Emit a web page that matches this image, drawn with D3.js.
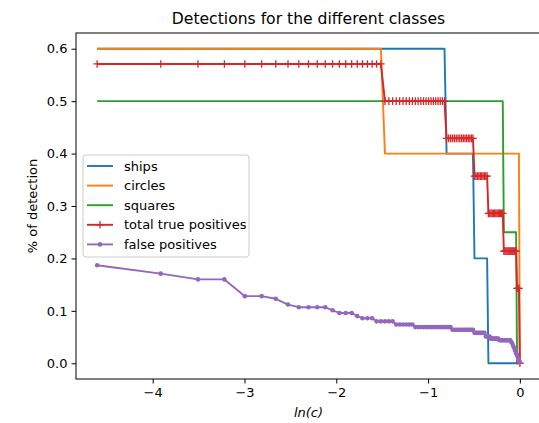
<!DOCTYPE html>
<html>
<head>
<meta charset="utf-8">
<script src="https://cdn.jsdelivr.net/npm/d3@7"></script>
<style>
  body { margin: 0; background: #fff; }
  svg { font-family: "DejaVu Sans", sans-serif; }
</style>
</head>
<body>
<div id="chart"></div>
<script>
// confidence thresholds c, plotted as ln(c)
const thresholds = [
  0.01, 0.02, 0.03, 0.04, 0.05, 0.06, 0.07, 0.08, 0.09, 0.10,
  0.11, 0.12, 0.13, 0.14, 0.15, 0.16, 0.17, 0.18, 0.19, 0.20,
  0.21, 0.22, 0.23, 0.24, 0.25, 0.26, 0.27, 0.28, 0.29, 0.30,
  0.31, 0.32, 0.33, 0.34, 0.35, 0.36, 0.37, 0.38, 0.39, 0.40,
  0.41, 0.42, 0.43, 0.44, 0.45, 0.46, 0.47, 0.48, 0.49, 0.50,
  0.51, 0.52, 0.53, 0.54, 0.55, 0.56, 0.57, 0.58, 0.59, 0.60,
  0.61, 0.62, 0.63, 0.64, 0.65, 0.66, 0.67, 0.68, 0.69, 0.70,
  0.71, 0.72, 0.73, 0.74, 0.75, 0.76, 0.77, 0.78, 0.79, 0.80,
  0.81, 0.82, 0.83, 0.84, 0.85, 0.86, 0.87, 0.88, 0.89, 0.90,
  0.91, 0.92, 0.93, 0.94, 0.95, 0.96, 0.97, 0.98, 0.99, 1.00
];

const ships = [
  0.6, 0.6, 0.6, 0.6, 0.6, 0.6, 0.6, 0.6, 0.6, 0.6,
  0.6, 0.6, 0.6, 0.6, 0.6, 0.6, 0.6, 0.6, 0.6, 0.6,
  0.6, 0.6, 0.6, 0.6, 0.6, 0.6, 0.6, 0.6, 0.6, 0.6,
  0.6, 0.6, 0.6, 0.6, 0.6, 0.6, 0.6, 0.6, 0.6, 0.6,
  0.6, 0.6, 0.6, 0.6, 0.4, 0.4, 0.4, 0.4, 0.4, 0.4,
  0.4, 0.4, 0.4, 0.4, 0.4, 0.4, 0.4, 0.4, 0.4, 0.4,
  0.2, 0.2, 0.2, 0.2, 0.2, 0.2, 0.2, 0.2, 0.2, 0.2,
  0, 0, 0, 0, 0, 0, 0, 0, 0, 0,
  0, 0, 0, 0, 0, 0, 0, 0, 0, 0,
  0, 0, 0, 0, 0, 0, 0, 0, 0, 0
];

const circles = [
  0.6, 0.6, 0.6, 0.6, 0.6, 0.6, 0.6, 0.6, 0.6, 0.6,
  0.6, 0.6, 0.6, 0.6, 0.6, 0.6, 0.6, 0.6, 0.6, 0.6,
  0.6, 0.6, 0.4, 0.4, 0.4, 0.4, 0.4, 0.4, 0.4, 0.4,
  0.4, 0.4, 0.4, 0.4, 0.4, 0.4, 0.4, 0.4, 0.4, 0.4,
  0.4, 0.4, 0.4, 0.4, 0.4, 0.4, 0.4, 0.4, 0.4, 0.4,
  0.4, 0.4, 0.4, 0.4, 0.4, 0.4, 0.4, 0.4, 0.4, 0.4,
  0.4, 0.4, 0.4, 0.4, 0.4, 0.4, 0.4, 0.4, 0.4, 0.4,
  0.4, 0.4, 0.4, 0.4, 0.4, 0.4, 0.4, 0.4, 0.4, 0.4,
  0.4, 0.4, 0.4, 0.4, 0.4, 0.4, 0.4, 0.4, 0.4, 0.4,
  0.4, 0.4, 0.4, 0.4, 0.4, 0.4, 0.4, 0.4, 0.4, 0
];

const squares = [
  0.5, 0.5, 0.5, 0.5, 0.5, 0.5, 0.5, 0.5, 0.5, 0.5,
  0.5, 0.5, 0.5, 0.5, 0.5, 0.5, 0.5, 0.5, 0.5, 0.5,
  0.5, 0.5, 0.5, 0.5, 0.5, 0.5, 0.5, 0.5, 0.5, 0.5,
  0.5, 0.5, 0.5, 0.5, 0.5, 0.5, 0.5, 0.5, 0.5, 0.5,
  0.5, 0.5, 0.5, 0.5, 0.5, 0.5, 0.5, 0.5, 0.5, 0.5,
  0.5, 0.5, 0.5, 0.5, 0.5, 0.5, 0.5, 0.5, 0.5, 0.5,
  0.5, 0.5, 0.5, 0.5, 0.5, 0.5, 0.5, 0.5, 0.5, 0.5,
  0.5, 0.5, 0.5, 0.5, 0.5, 0.5, 0.5, 0.5, 0.5, 0.5,
  0.5, 0.5, 0.5, 0.25, 0.25, 0.25, 0.25, 0.25, 0.25, 0.25,
  0.25, 0.25, 0.25, 0.25, 0.25, 0.25, 0, 0, 0, 0
];

const totalTP = [
  0.571, 0.571, 0.571, 0.571, 0.571, 0.571, 0.571, 0.571, 0.571, 0.571,
  0.571, 0.571, 0.571, 0.571, 0.571, 0.571, 0.571, 0.571, 0.571, 0.571,
  0.571, 0.571, 0.5, 0.5, 0.5, 0.5, 0.5, 0.5, 0.5, 0.5,
  0.5, 0.5, 0.5, 0.5, 0.5, 0.5, 0.5, 0.5, 0.5, 0.5,
  0.5, 0.5, 0.5, 0.5, 0.429, 0.429, 0.429, 0.429, 0.429, 0.429,
  0.429, 0.429, 0.429, 0.429, 0.429, 0.429, 0.429, 0.429, 0.429, 0.429,
  0.357, 0.357, 0.357, 0.357, 0.357, 0.357, 0.357, 0.357, 0.357, 0.357,
  0.286, 0.286, 0.286, 0.286, 0.286, 0.286, 0.286, 0.286, 0.286, 0.286,
  0.286, 0.286, 0.286, 0.214, 0.214, 0.214, 0.214, 0.214, 0.214, 0.214,
  0.214, 0.214, 0.214, 0.214, 0.214, 0.214, 0.143, 0.143, 0.143, 0
];

const falsePos = [
  0.187, 0.171, 0.160, 0.160, 0.128, 0.128, 0.123, 0.112, 0.107, 0.107,
  0.107, 0.107, 0.101, 0.096, 0.096, 0.096, 0.090, 0.086, 0.086, 0.086,
  0.080, 0.080, 0.080, 0.080, 0.080, 0.074, 0.074, 0.074, 0.074, 0.074,
  0.074, 0.069, 0.069, 0.069, 0.069, 0.069, 0.069, 0.069, 0.069, 0.069,
  0.069, 0.069, 0.069, 0.069, 0.069, 0.069, 0.069, 0.064, 0.064, 0.064,
  0.064, 0.064, 0.064, 0.064, 0.064, 0.064, 0.064, 0.064, 0.064, 0.064,
  0.058, 0.058, 0.058, 0.058, 0.058, 0.058, 0.058, 0.058, 0.051, 0.051,
  0.051, 0.051, 0.047, 0.047, 0.047, 0.047, 0.047, 0.047, 0.047, 0.044,
  0.044, 0.044, 0.044, 0.044, 0.044, 0.044, 0.044, 0.044, 0.044, 0.044,
  0.041, 0.038, 0.033, 0.029, 0.024, 0.019, 0.015, 0.010, 0.006, 0.002
];

const seriesNames = ["ships", "circles", "squares", "total true positives", "false positives"];
const seriesValues = [ships, circles, squares, totalTP, falsePos];
const seriesMarkers = ["none", "none", "none", "plus", "dot"];
const colors = ["#1f77b4", "#ff7f0e", "#2ca02c", "#d62728", "#9467bd"];
const xTicks = [-4, -3, -2, -1, 0];
const yTicks = [0, 0.1, 0.2, 0.3, 0.4, 0.5, 0.6];

const w = 539, h = 423;
const margin = { left: 76, right: -2, top: 33, bottom: 44 };
const fs = "13px";

const svg = d3.select("#chart").append("svg")
  .attr("width", w).attr("height", h);

const lnc = thresholds.map(c => Math.log(c));
const xExt = d3.extent(lnc);
const xPad = (xExt[1] - xExt[0]) * 0.05;
const allY = seriesValues.flat();
const yExt = d3.extent(allY);
const yPad = (yExt[1] - yExt[0]) * 0.05;

const x = d3.scaleLinear()
  .domain([xExt[0] - xPad, xExt[1] + xPad])
  .range([margin.left, w - margin.right]);
const y = d3.scaleLinear()
  .domain([yExt[0] - yPad, yExt[1] + yPad])
  .range([h - margin.bottom, margin.top]);

svg.append("defs").append("clipPath").attr("id", "clip")
  .append("rect")
  .attr("x", margin.left).attr("y", margin.top)
  .attr("width", w - margin.right - margin.left)
  .attr("height", h - margin.bottom - margin.top);

const plot = svg.append("g").attr("clip-path", "url(#clip)");

const line = d3.line()
  .x((d, i) => x(lnc[i]))
  .y(d => y(d));

seriesValues.forEach((vals, s) => {
  plot.append("path")
    .datum(vals)
    .attr("fill", "none")
    .attr("stroke", colors[s])
    .attr("stroke-width", 1.9)
    .attr("stroke-linejoin", "round")
    .attr("d", line);

  if (seriesMarkers[s] === "plus") {
    plot.append("g").selectAll("path")
      .data(vals)
      .join("path")
      .attr("d", (d, i) => {
        const cx = x(lnc[i]), cy = y(d), r = 3.8;
        return `M${cx - r},${cy}H${cx + r}M${cx},${cy - r}V${cy + r}`;
      })
      .attr("stroke", colors[s])
      .attr("stroke-width", 1.3);
  } else if (seriesMarkers[s] === "dot") {
    plot.append("g").selectAll("circle")
      .data(vals)
      .join("circle")
      .attr("cx", (d, i) => x(lnc[i]))
      .attr("cy", d => y(d))
      .attr("r", 2.3)
      .attr("fill", colors[s]);
  }
});

// axes
const xAxis = svg.append("g")
  .attr("transform", `translate(0, ${h - margin.bottom})`)
  .call(d3.axisBottom(x).tickValues(xTicks).tickFormat(d3.format("d"))
    .tickSize(4.5).tickPadding(4).tickSizeOuter(0));
const yAxis = svg.append("g")
  .attr("transform", `translate(${margin.left}, 0)`)
  .call(d3.axisLeft(y).tickValues(yTicks).tickFormat(d3.format(".1f"))
    .tickSize(4.5).tickPadding(4).tickSizeOuter(0));

[xAxis, yAxis].forEach(a => {
  a.select(".domain").remove();
  a.selectAll("line").attr("stroke", "#000").attr("stroke-width", 1);
  a.selectAll("text")
    .attr("fill", "#000")
    .attr("font-size", fs)
    .attr("font-family", "DejaVu Sans");
});

// frame
svg.append("rect")
  .attr("x", margin.left).attr("y", margin.top)
  .attr("width", w - margin.right - margin.left)
  .attr("height", h - margin.bottom - margin.top)
  .attr("fill", "none")
  .attr("stroke", "#000")
  .attr("stroke-width", 1);

// title and labels
svg.append("text")
  .attr("x", (margin.left + w - margin.right) / 2)
  .attr("y", 24)
  .attr("text-anchor", "middle")
  .attr("font-size", "15.6px")
  .text("Detections for the different classes");

svg.append("text")
  .attr("x", (margin.left + w - margin.right) / 2)
  .attr("y", 417)
  .attr("text-anchor", "middle")
  .attr("font-size", fs)
  .attr("font-style", "italic")
  .text("ln(c)");

svg.append("text")
  .attr("transform", `translate(37, ${(margin.top + h - margin.bottom) / 2}) rotate(-90)`)
  .attr("text-anchor", "middle")
  .attr("font-size", fs)
  .text("% of detection");

// legend
const lg = svg.append("g").attr("transform", "translate(83, 155)");
lg.append("rect")
  .attr("width", 166).attr("height", 102)
  .attr("rx", 3)
  .attr("fill", "#fff").attr("fill-opacity", 0.8)
  .attr("stroke", "#ccc").attr("stroke-width", 1);

const items = lg.selectAll("g.item")
  .data(seriesNames)
  .join("g")
  .attr("class", "item")
  .attr("transform", (d, i) => `translate(0, ${11 + i * 19.6})`);

items.append("line")
  .attr("x1", 4).attr("x2", 30)
  .attr("stroke", (d, i) => colors[i])
  .attr("stroke-width", 1.9);

items.filter((d, i) => seriesMarkers[i] === "plus").append("path")
  .attr("d", "M13.2,0H20.8M17,-3.8V3.8")
  .attr("stroke", colors[3]).attr("stroke-width", 1.3);

items.filter((d, i) => seriesMarkers[i] === "dot").append("circle")
  .attr("cx", 17).attr("r", 2.3).attr("fill", colors[4]);

items.append("text")
  .attr("x", 41).attr("dy", "0.35em")
  .attr("font-size", fs)
  .text(d => d);
</script>
</body>
</html>
